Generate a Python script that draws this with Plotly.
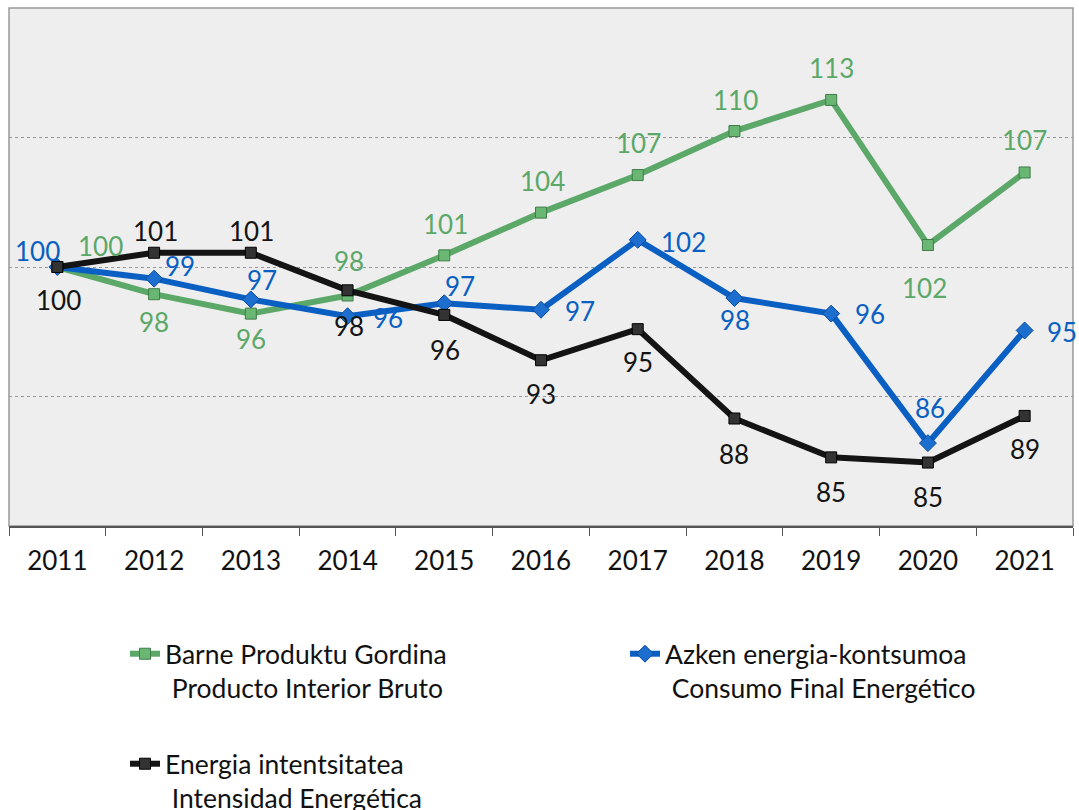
import plotly.graph_objects as go

years = ["2011", "2012", "2013", "2014", "2015", "2016", "2017", "2018", "2019", "2020", "2021"]
gdp = [100, 97.9, 96.4, 97.8, 100.9, 104.2, 107.1, 110.5, 112.9, 101.7, 107.3]
consumption = [100, 99.1, 97.5, 96.2, 97.2, 96.7, 102.1, 97.6, 96.4, 86.4, 95.1]
intensity = [100, 101.1, 101.1, 98.2, 96.3, 92.8, 95.2, 88.3, 85.3, 84.9, 88.5]

gdp_labels = ["100", "98", "96", "98", "101", "104", "107", "110", "113", "102", "107"]
cons_labels = ["100", "99", "97", "96", "97", "97", "102", "98", "96", "86", "95"]
int_labels = ["100", "101", "101", "98", "96", "93", "95", "88", "85", "85", "89"]

# label offsets from the point, in pixels (dx right, dy down)
gdp_off = [(43, -21), (0, 28), (0, 25), (1, -34), (1, -31), (1, -32), (1, -32), (1, -31), (0, -32), (-3, 43), (0, -32)]
cons_off = [(-20, -16), (26, -13), (11, -19), (40, 2), (16, -17), (39, 1), (46, 2), (1, 22), (39, 0), (2, -35), (37, 2)]
int_off = [(1, 33), (1, -22), (1, -22), (1, 36), (1, 35), (0, 34), (0, 33), (0, 35), (0, 35), (0, 34), (0, 33)]

GREEN = "#5ba868"
BLUE = "#0a5fc2"
BLACK = "#141414"
FONT = "Lato"
FS = 26

fig = go.Figure()
fig.add_trace(go.Scatter(
    x=years, y=gdp, mode="lines+markers", name="Barne Produktu Gordina<br> Producto Interior Bruto",
    line=dict(color=GREEN, width=6), marker=dict(symbol="square", size=11, color="#6ab673",
                                                 line=dict(color="#3f7d49", width=1)),
    legend="legend"))
fig.add_trace(go.Scatter(
    x=years, y=consumption, mode="lines+markers", name="Azken energia-kontsumoa<br> Consumo Final Energético",
    line=dict(color=BLUE, width=6), marker=dict(symbol="diamond", size=13, color="#1d6fcf",
                                                line=dict(color="#0a4a99", width=1)),
    legend="legend2"))
fig.add_trace(go.Scatter(
    x=years, y=intensity, mode="lines+markers", name="Energia intentsitatea<br> Intensidad Energética",
    line=dict(color=BLACK, width=6), marker=dict(symbol="square", size=11, color="#333333",
                                                 line=dict(color="#000000", width=1)),
    legend="legend3"))

for vals, labels, offs, col in [(gdp, gdp_labels, gdp_off, GREEN),
                                (consumption, cons_labels, cons_off, BLUE),
                                (intensity, int_labels, int_off, BLACK)]:
    for i, (v, t, (dx, dy)) in enumerate(zip(vals, labels, offs)):
        # category axis: annotation x given as category index
        fig.add_annotation(x=i, y=v, xref="x", yref="y", text=t, showarrow=False,
                           xshift=dx, yshift=-dy, xanchor="center", yanchor="middle",
                           font=dict(family=FONT, size=FS, color=col))

W, H = 1079, 810
leg_common = dict(font=dict(family=FONT, size=26.5, color="#111111"), bgcolor="rgba(0,0,0,0)",
                  xanchor="left", yanchor="top", xref="container", yref="container", valign="top")
fig.update_layout(
    width=W, height=H,
    margin=dict(l=9, r=6, t=8, b=284, autoexpand=False),
    paper_bgcolor="white", plot_bgcolor="#eeeeee",
    font=dict(family=FONT, size=FS, color="#111111"),
    showlegend=True,
    legend=dict(x=125 / W, y=1 - 630 / H, **leg_common),
    legend2=dict(x=625 / W, y=1 - 630 / H, **leg_common),
    legend3=dict(x=125 / W, y=1 - 740 / H, **leg_common),
    xaxis=dict(type="category", range=[-0.5, 10.5], showgrid=False, ticks="outside", tickson="boundaries",
               ticklen=8, tickcolor="#555555", showline=True, linecolor="#555555", linewidth=1.5,
               ticklabelstandoff=11,
               tickangle=0, tickfont=dict(family=FONT, size=FS, color="#111111"), mirror=False),
    yaxis=dict(range=[80, 120], dtick=10, showticklabels=False, showgrid=True, gridcolor="#999999",
               griddash="dot", gridwidth=1, zeroline=False, showline=False, ticks=""),
)
fig.add_shape(type="rect", xref="paper", yref="paper", x0=0, y0=0, x1=1, y1=1,
              line=dict(color="#999999", width=1.5), fillcolor="rgba(0,0,0,0)", layer="below")

fig.write_html("out.html", config={"displayModeBar": False},
               post_script="document.body.style.margin='0';document.body.style.overflow='hidden';")
